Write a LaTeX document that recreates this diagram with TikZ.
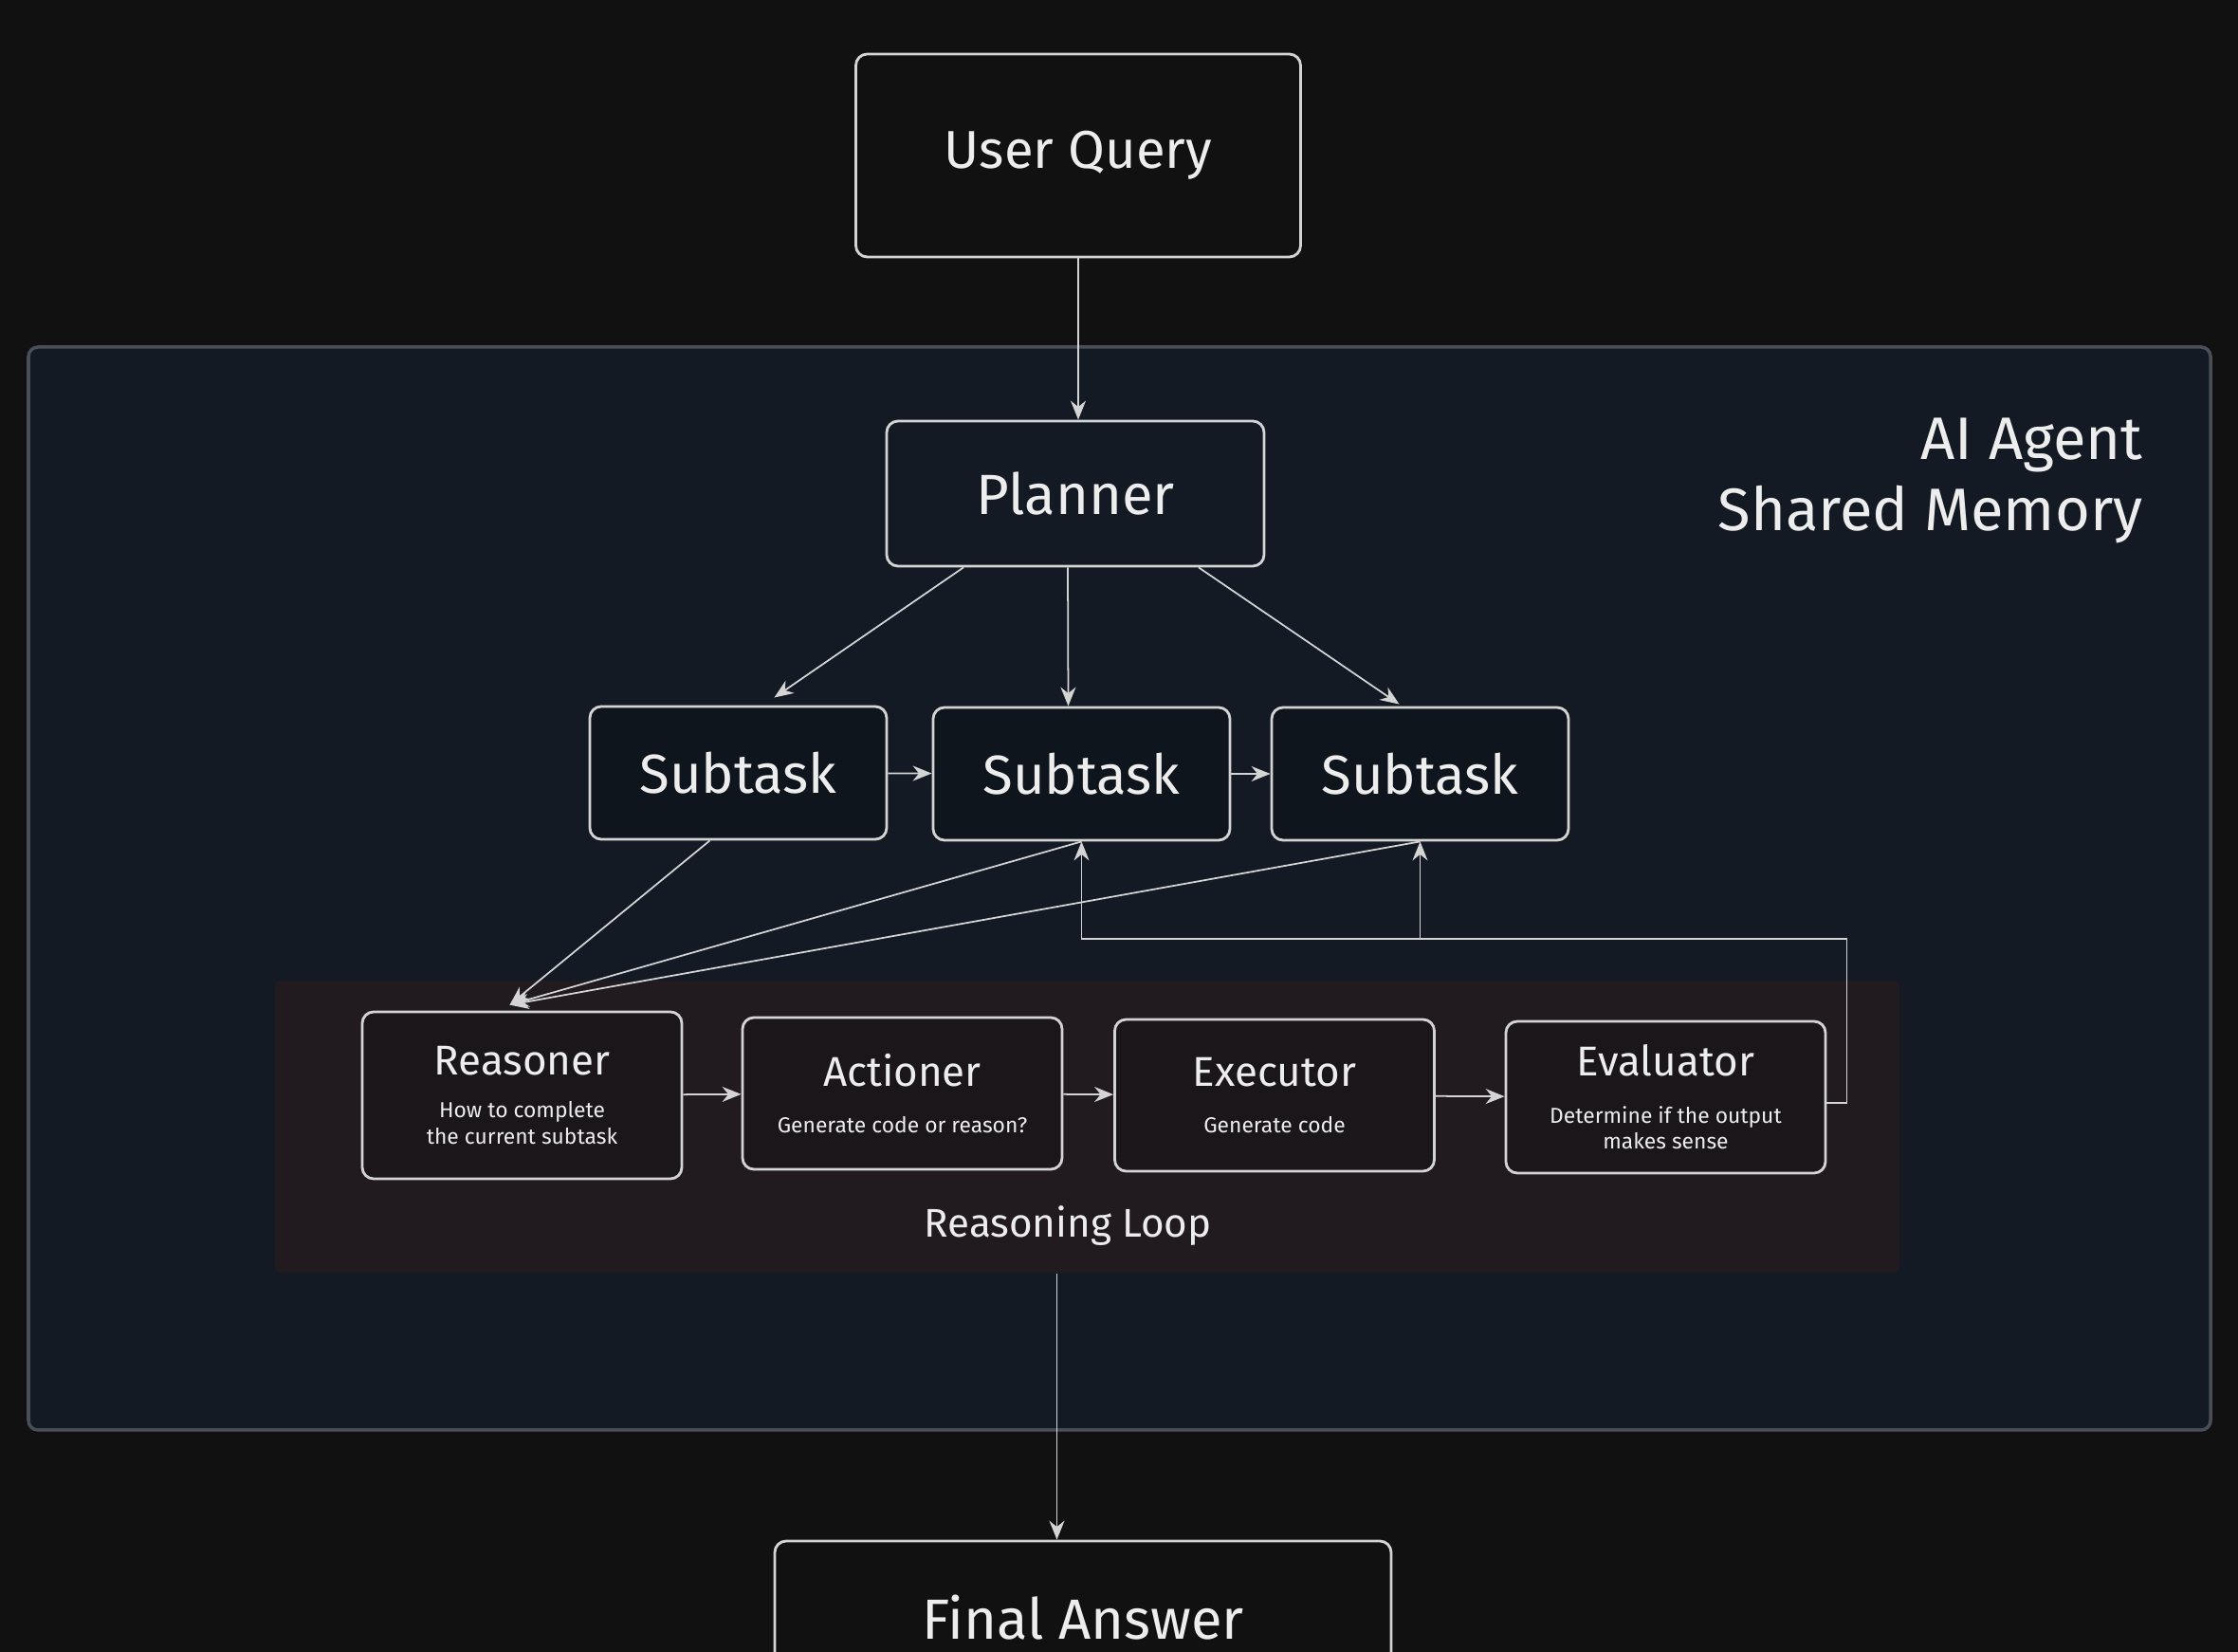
\documentclass[tikz,border=0pt]{standalone}
\usepackage{fontspec}
\setmainfont{Fira Sans}
\usetikzlibrary{arrows.meta, positioning, calc}
\definecolor{PageBg}{HTML}{111111}
\definecolor{AgentBg}{HTML}{131A24}
\definecolor{AgentLine}{HTML}{4A4F57}
\definecolor{LoopBg}{HTML}{211B1F}
\definecolor{InkLight}{HTML}{D4D4D4}
\definecolor{TextLight}{HTML}{EDEDED}
\newcommand{\boxtitle}[1]{{\fontsize{12.5}{15}\selectfont #1}}

\begin{document}
\begin{tikzpicture}[
    box/.style={
      rectangle, rounded corners=1.2mm, draw=InkLight, line width=0.8pt,
      align=center, text=TextLight, inner sep=0pt
    },
    bigbox/.style={box, fill=PageBg, font=\fontsize{17}{20}\selectfont},
    subbox/.style={box, fill=AgentBg!80!black, minimum width=3.13cm,
      minimum height=1.4cm, font=\fontsize{16.5}{20}\selectfont},
    loopbox/.style={box, fill=LoopBg!80!black, minimum width=3.37cm,
      minimum height=1.6cm, font=\fontsize{6.5}{7.8}\selectfont},
    rel/.style={-{Stealth[length=2mm, width=1.6mm]}, draw=InkLight, line width=0.5pt}
  ]
    \useasboundingbox (0,0) rectangle (23.6,-17.42);
    \clip (0,0) rectangle (23.6,-17.42);
    \fill[PageBg] (0,0) rectangle (23.6,-17.42);

    % regions
    \node[fill=AgentBg, draw=AgentLine, line width=1pt, rounded corners=1mm,
      minimum width=23.01cm, minimum height=11.42cm] (agent) at (11.805,-9.37) {};
    \node[anchor=east, align=right, text=TextLight, font=\fontsize{18}{21.5}\selectfont]
      (agentlabel) at (22.72,-5.07) {AI Agent\\Shared Memory};
    \node[fill=LoopBg, rounded corners=0.5mm,
      minimum width=17.13cm, minimum height=3.08cm] (loop) at (11.465,-11.88) {};
    \node[text=TextLight, font=\fontsize{12}{14}\selectfont] (looplabel) at (11.26,-12.93) {Reasoning Loop};

    % nodes
    \node[bigbox, minimum width=4.69cm, minimum height=2.14cm,
      font=\fontsize{16}{19}\selectfont] (query) at (11.37,-1.64) {User Query};
    \node[bigbox, fill=AgentBg, minimum width=3.98cm, minimum height=1.53cm] (planner) at (11.34,-5.205) {Planner};
    \node[subbox] (sub1) at (7.785,-8.15) {Subtask};
    \node[subbox] (sub2) at (11.405,-8.16) {Subtask};
    \node[subbox] (sub3) at (14.975,-8.16) {Subtask};

    \node[loopbox, minimum height=1.76cm] (reasoner) at (5.505,-11.55)
      {\boxtitle{Reasoner}\\[1.8mm]How to complete\\the current subtask};
    \node[loopbox] (actioner) at (9.515,-11.53)
      {\boxtitle{Actioner}\\[2.2mm]Generate code or reason?};
    \node[loopbox] (executor) at (13.44,-11.55)
      {\boxtitle{Executor}\\[2.2mm]Generate code};
    \node[loopbox] (evaluator) at (17.565,-11.57)
      {\boxtitle{Evaluator}\\[2.2mm]Determine if the output\\makes sense};

    \node[bigbox, minimum width=6.5cm, minimum height=1.62cm] (final) at (11.42,-17.06) {Final Answer};

    % connectors
    \draw[rel] (query.south) -- (query.south |- planner.north);
    \draw[rel] ([xshift=-11.8mm]planner.south) -- ([xshift=3.8mm,yshift=0.8mm]sub1.north);
    \draw[rel] ([xshift=-0.8mm]planner.south) -- ([xshift=-1.4mm]sub2.north);
    \draw[rel] ([xshift=13mm]planner.south) -- ([xshift=-2.2mm,yshift=0.2mm]sub3.north);
    \draw[rel] (sub1) -- (sub2);
    \draw[rel] (sub2) -- (sub3);

    \draw[rel] ([xshift=-3mm]sub1.south) -- ([xshift=-1.3mm,yshift=0.6mm]reasoner.north);
    \draw[rel] (sub2.south) -- ([xshift=-1.3mm,yshift=0.6mm]reasoner.north);
    \draw[rel] (sub3.south) -- ([xshift=-1.3mm,yshift=0.6mm]reasoner.north);

    \draw[rel] (reasoner) -- (actioner);
    \draw[rel] (actioner) -- (executor);
    \draw[rel] (executor) -- (evaluator);

    \coordinate (back) at (19.46,-9.9);
    \draw[rel] ([yshift=-0.6mm]evaluator.east) -- ++(0.21,0)
      |- (sub2.south |- back) -- (sub2.south);
    \draw[rel] (sub3.south |- back) -- (sub3.south);

    \draw[rel] ([xshift=-3.2mm]loop.south) -- ([xshift=-3.2mm]loop.south |- final.north);
\end{tikzpicture}
\end{document}
